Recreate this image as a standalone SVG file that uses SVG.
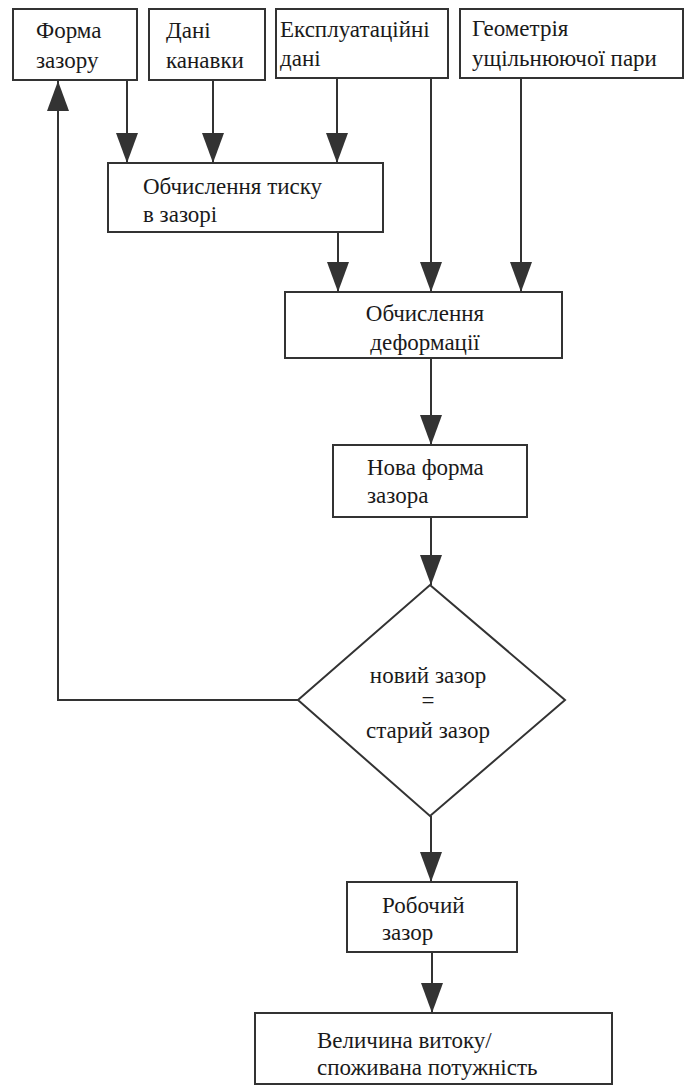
<svg xmlns="http://www.w3.org/2000/svg" width="686" height="1086" viewBox="0 0 686 1086">
<style>
.box{fill:#fff;stroke:#333;stroke-width:2}
.t{font-family:"Liberation Serif","Times New Roman",Tinos,"Noto Serif","DejaVu Serif",FreeSerif,"Nimbus Roman",Times,serif;font-size:23px;fill:#1a1a1a}
.c{text-anchor:middle}
.ln{fill:none;stroke:#333;stroke-width:2}
</style>
<defs>
<marker id="ah" markerUnits="userSpaceOnUse" markerWidth="30" markerHeight="22" refX="30" refY="11" orient="auto">
<path d="M0,0 L30,11 L0,22 z" fill="#333"/>
</marker>
</defs>
<rect width="686" height="1086" fill="#fff"/>
<g id="connectors">
<path class="ln" d="M298,700 L58,700 L58,81" marker-end="url(#ah)"/>
<path class="ln" d="M127,80 L127,163" marker-end="url(#ah)"/>
<path class="ln" d="M213,80 L213,163" marker-end="url(#ah)"/>
<path class="ln" d="M337,78 L337,163" marker-end="url(#ah)"/>
<path class="ln" d="M431,78 L431,292" marker-end="url(#ah)"/>
<path class="ln" d="M521,78 L521,292" marker-end="url(#ah)"/>
<path class="ln" d="M338,232 L338,292" marker-end="url(#ah)"/>
<path class="ln" d="M431,358 L431,445" marker-end="url(#ah)"/>
<path class="ln" d="M431,517 L431,585" marker-end="url(#ah)"/>
<path class="ln" d="M431,816 L431,882" marker-end="url(#ah)"/>
<path class="ln" d="M432,952 L432,1013" marker-end="url(#ah)"/>
</g>
<g id="n1"><rect class="box" x="13" y="9" width="124" height="71"/>
<text class="t" x="36" y="38">Форма</text><text class="t" x="36" y="68">зазору</text></g>
<g id="n2"><rect class="box" x="149" y="9" width="116" height="71"/>
<text class="t" x="166" y="38">Дані</text><text class="t" x="166" y="68">канавки</text></g>
<g id="n3"><rect class="box" x="276" y="9" width="172" height="69"/>
<text class="t" x="280" y="37">Експлуатаційні</text><text class="t" x="280" y="66">дані</text></g>
<g id="n4"><rect class="box" x="460" y="9" width="223" height="69"/>
<text class="t" x="472" y="36">Геометрія</text><text class="t" x="472" y="66">ущільнюючої пари</text></g>
<g id="n5"><rect class="box" x="108" y="163" width="275" height="69"/>
<text class="t" x="143" y="194">Обчислення тиску</text><text class="t" x="143" y="222">в зазорі</text></g>
<g id="n6"><rect class="box" x="285" y="292" width="277" height="66"/>
<text class="t c" x="425" y="321">Обчислення</text><text class="t c" x="425" y="350">деформації</text></g>
<g id="n7"><rect class="box" x="333" y="445" width="194" height="72"/>
<text class="t" x="367" y="475">Нова форма</text><text class="t" x="367" y="503">зазора</text></g>
<g id="n8"><polygon class="box" points="430,585 565,700 430,816 298,700"/>
<text class="t c" x="428" y="683">новий зазор</text><text class="t c" x="428" y="708">=</text><text class="t c" x="428" y="738">старий зазор</text></g>
<g id="n9"><rect class="box" x="347" y="882" width="170" height="70"/>
<text class="t" x="382" y="913">Робочий</text><text class="t" x="382" y="940">зазор</text></g>
<g id="n10"><rect class="box" x="255" y="1013" width="357" height="71"/>
<text class="t" x="317" y="1048">Величина витоку/</text><text class="t" x="317" y="1075">споживана потужність</text></g>
</svg>
